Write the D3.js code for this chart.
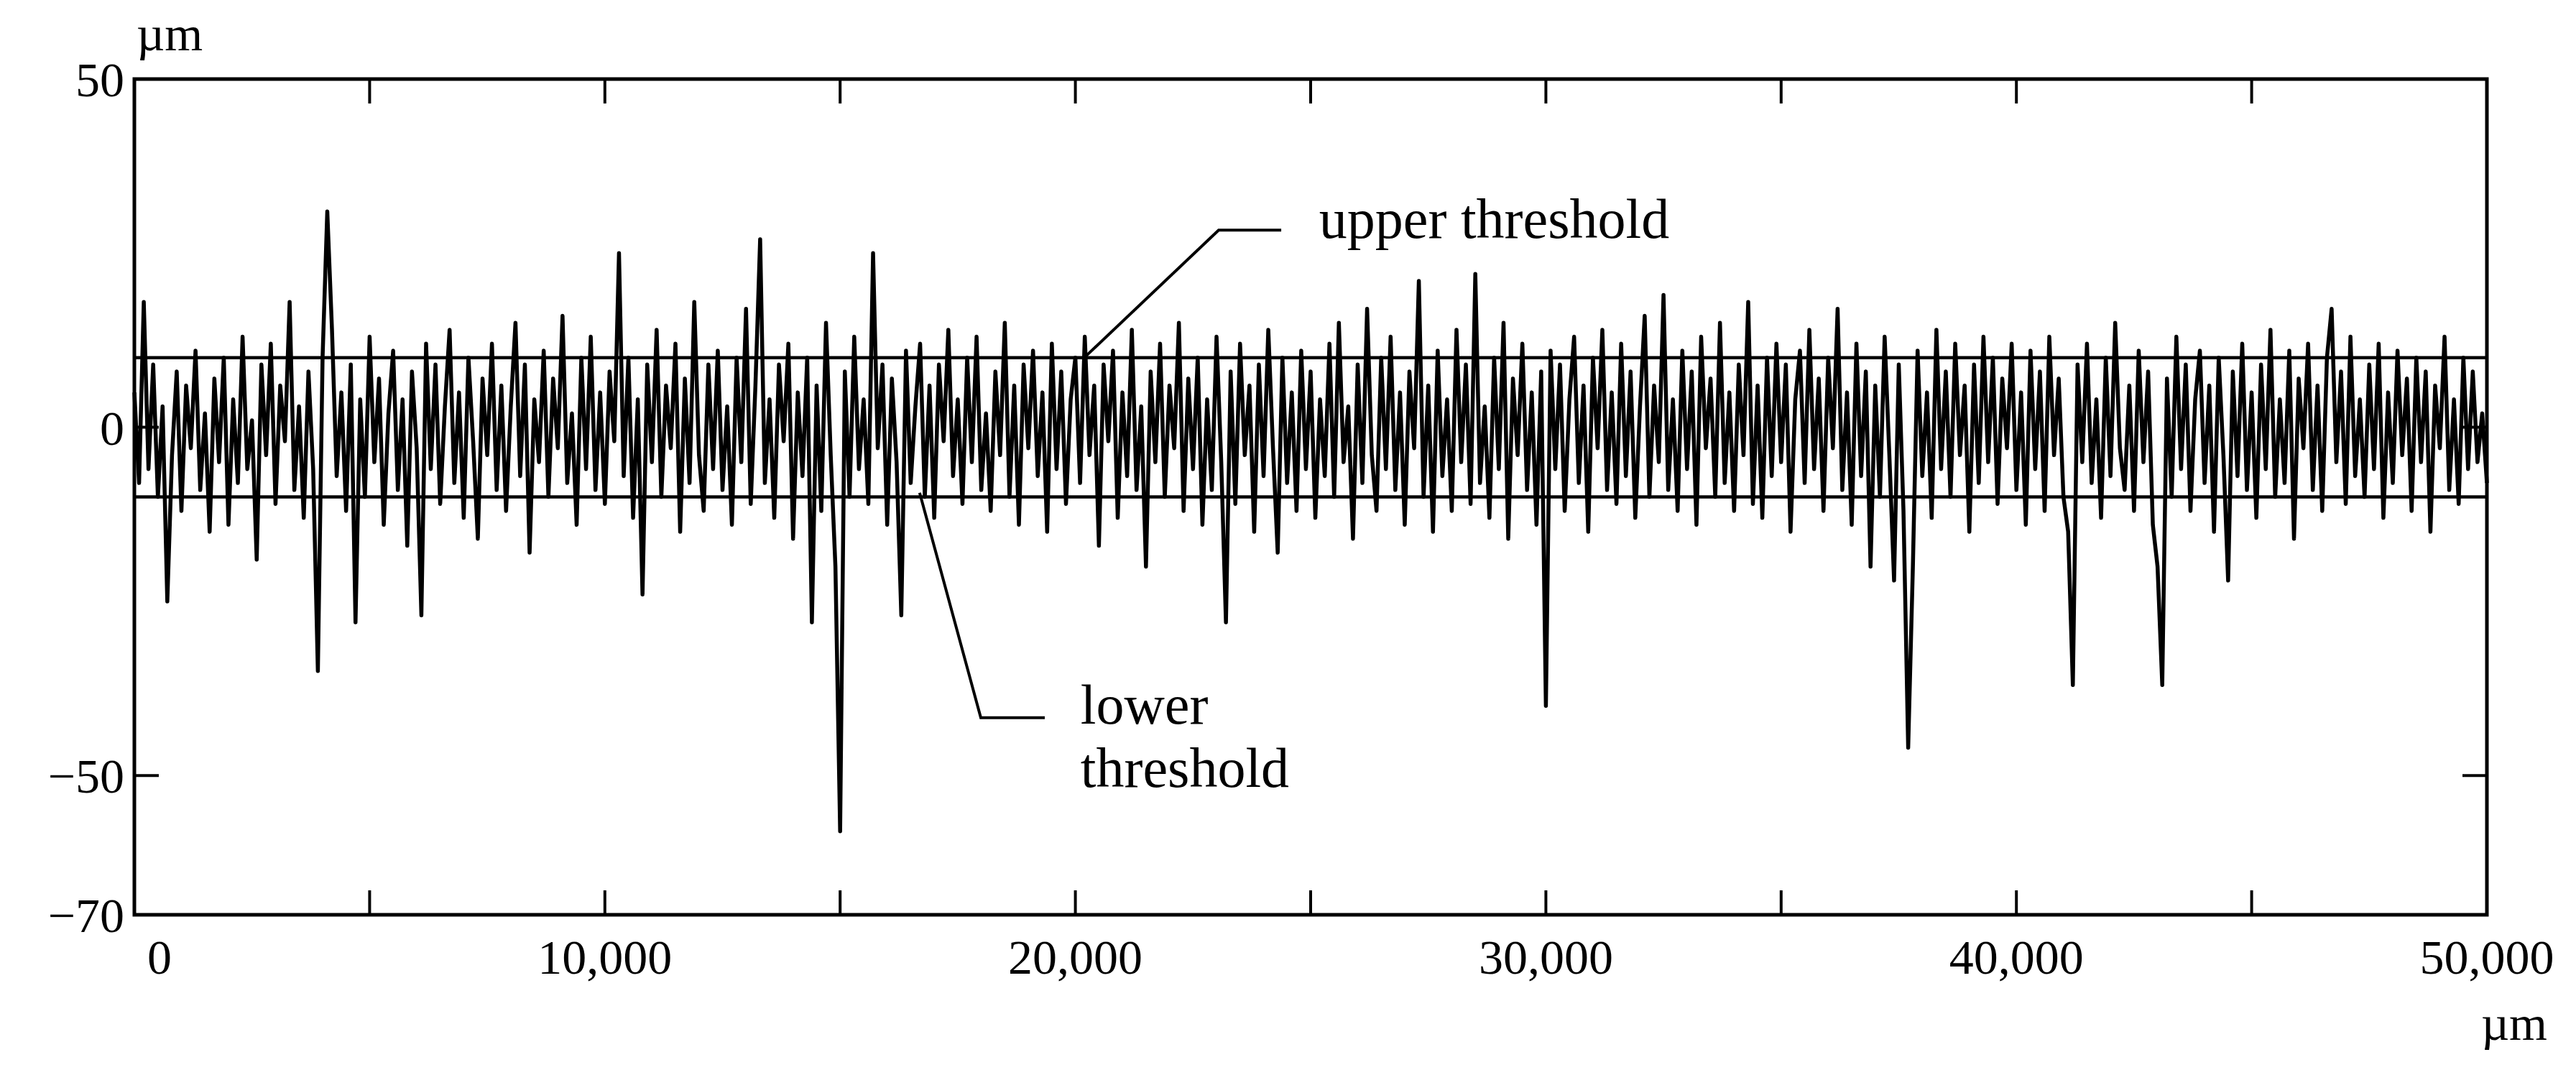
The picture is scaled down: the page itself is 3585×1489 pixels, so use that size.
<!DOCTYPE html>
<html>
<head>
<meta charset="utf-8">
<script src="https://cdn.jsdelivr.net/npm/d3@7"></script>
<style>
  body { margin: 0; background: #fff; }
  text { font-family: "Liberation Serif", "Times New Roman", serif; fill: #000; }
</style>
</head>
<body>
<svg id="chart" width="3585" height="1489"></svg>
<script>
// Profile samples, one every 100 µm
var step = 100;
var profile = [
  5,-8,18,-6,9,-10,3,-25,-4,8,-12,6,-3,11,-9,2,-15,7,-5,10,-14,4,-8,13,-6,
  1,-19,9,-4,12,-11,6,-2,18,-9,3,-13,8,-6,-35,10,31,14,-7,5,-12,9,-28,4,-10,
  13,-5,7,-14,2,11,-9,4,-17,8,-3,-27,12,-6,9,-11,3,14,-8,5,-13,10,-2,-16,7,
  -4,12,-9,6,-12,3,15,-7,9,-18,4,-5,11,-10,7,-3,16,-8,2,-14,10,-6,13,-9,5,
  -11,8,-2,25,-7,10,-13,4,-24,9,-5,14,-10,6,-3,12,-15,7,-8,18,-4,-12,9,-6,11,
  -9,3,-14,10,-5,17,-11,6,27,-8,4,-13,9,-2,12,-16,5,-7,10,-28,6,-12,15,-4,-20,
  -58,8,-10,13,-6,4,-11,25,-3,9,-14,7,-5,-27,11,-8,3,12,-10,6,-13,9,-2,14,-7,
  4,-11,10,-5,13,-9,2,-12,8,-4,15,-10,6,-14,9,-3,11,-7,5,-15,12,-6,8,-11,4,
  10,-8,13,-4,6,-17,9,-2,11,-13,5,-7,14,-9,3,-20,8,-5,12,-10,6,-3,15,-12,7,
  -6,10,-14,4,-9,13,-5,-28,8,-11,12,-4,6,-15,9,-7,14,-3,-18,10,-8,5,-12,11,-6,
  8,-13,4,-7,12,-10,15,-5,3,-16,9,-8,17,-4,-12,10,-6,13,-9,5,-14,8,-3,21,-10,
  6,-15,11,-7,4,-12,14,-5,9,-11,22,-8,3,-13,10,-6,15,-16,7,-4,12,-9,5,-14,8,
  -40,11,-6,9,-12,4,13,-8,6,-15,10,-3,14,-9,5,-11,12,-7,8,-13,3,16,-10,6,-5,
  19,-9,4,-12,11,-6,8,-14,13,-3,7,-10,15,-8,5,-12,9,-4,18,-11,6,-13,10,-7,12,
  -5,9,-15,4,11,-8,14,-6,7,-12,10,-3,17,-9,5,-14,12,-7,8,-20,6,-10,13,-4,-22,
  9,-12,-46,-20,11,-7,5,-13,14,-6,8,-10,12,-4,6,-15,9,-8,13,-5,10,-11,7,-3,12,
  -9,5,-14,11,-6,8,-12,13,-4,7,-10,-15,-37,9,-5,12,-8,4,-13,10,-7,15,-3,-9,6,
  -12,11,-5,8,-14,-20,-37,7,-10,13,-6,9,-12,4,11,-8,6,-15,10,-4,-22,8,-7,12,-9,
  5,-13,9,-6,14,-10,4,-8,11,-16,7,-3,12,-9,6,-12,10,17,-5,8,-11,13,-7,4,-10,
  9,-6,12,-13,5,-8,11,-4,7,-12,10,-5,8,-15,6,-3,13,-9,4,-11,10,-6,8,-5,2,-8
];
var thresholds = [10, -10];
var xTicks = [0, 10000, 20000, 30000, 40000, 50000];
var xMinor = [5000, 15000, 25000, 35000, 45000];
var yTicks = [50, 0, -50, -70];

var svg = d3.select("#chart");
var m = {left: 187, right: 3461, top: 110, bottom: 1273};

var x = d3.scaleLinear().domain([0, 50000]).range([m.left, m.right]);
var y = d3.scaleLinear().domain([-70, 50]).range([m.bottom, m.top]);

// data line
var line = d3.line()
  .x(function(d, i) { return x(i * step); })
  .y(function(d) { return y(d); });

svg.append("path")
  .datum(profile)
  .attr("d", line)
  .attr("fill", "none")
  .attr("stroke", "#000")
  .attr("stroke-width", 5.5)
  .attr("stroke-linejoin", "round");

// threshold lines
svg.selectAll(".thr")
  .data(thresholds)
  .enter()
  .append("line")
  .attr("x1", m.left).attr("x2", m.right)
  .attr("y1", function(d) { return y(d); })
  .attr("y2", function(d) { return y(d); })
  .attr("stroke", "#000")
  .attr("stroke-width", 4.5);

// frame
svg.append("rect")
  .attr("x", m.left).attr("y", m.top)
  .attr("width", m.right - m.left).attr("height", m.bottom - m.top)
  .attr("fill", "none").attr("stroke", "#000").attr("stroke-width", 5);

// inside ticks, top and bottom
var tickLen = 34;
var allX = xTicks.concat(xMinor).filter(function(v) { return v > 0 && v < 50000; });
allX.forEach(function(v) {
  svg.append("line").attr("x1", x(v)).attr("x2", x(v))
    .attr("y1", m.bottom).attr("y2", m.bottom - tickLen)
    .attr("stroke", "#000").attr("stroke-width", 4);
  svg.append("line").attr("x1", x(v)).attr("x2", x(v))
    .attr("y1", m.top).attr("y2", m.top + tickLen)
    .attr("stroke", "#000").attr("stroke-width", 4);
});
[-50, 0].forEach(function(v) {
  svg.append("line").attr("x1", m.left).attr("x2", m.left + tickLen)
    .attr("y1", y(v)).attr("y2", y(v))
    .attr("stroke", "#000").attr("stroke-width", 4);
  svg.append("line").attr("x1", m.right).attr("x2", m.right - tickLen)
    .attr("y1", y(v)).attr("y2", y(v))
    .attr("stroke", "#000").attr("stroke-width", 4);
});

// tick labels
var fs = 68;
svg.selectAll(".xl")
  .data(xTicks)
  .enter()
  .append("text")
  .attr("x", function(d) { return d == 0 ? x(d) + 35 : x(d); })
  .attr("y", 1355)
  .attr("text-anchor", "middle")
  .attr("font-size", fs)
  .text(function(d) { return d3.format(",")(d); });

svg.selectAll(".yl")
  .data(yTicks)
  .enter()
  .append("text")
  .attr("x", 173)
  .attr("y", function(d) { return y(d) + 24; })
  .attr("text-anchor", "end")
  .attr("font-size", fs)
  .text(function(d) { return d < 0 ? "\u2212" + Math.abs(d) : d; });

// units
svg.append("text").attr("x", 190).attr("y", 70).attr("font-size", fs).text("µm");
svg.append("text").attr("x", 3545).attr("y", 1447).attr("text-anchor", "end").attr("font-size", fs).text("µm");

// annotations
var afs = 78;
var upperLeader = [[20190, 10], [23045, 28.3], [24375, 28.3]];
var lowerLeader = [[16690, -9.4], [17990, -41.7], [19350, -41.7]];
var lead = d3.line().x(function(d) { return x(d[0]); }).y(function(d) { return y(d[1]); });
[upperLeader, lowerLeader].forEach(function(p) {
  svg.append("path").attr("d", lead(p)).attr("fill", "none")
    .attr("stroke", "#000").attr("stroke-width", 4);
});
svg.append("text").attr("x", x(25180)).attr("y", y(27.2)).attr("font-size", afs).text("upper threshold");
svg.append("text").attr("x", x(20110)).attr("y", y(-42.6)).attr("font-size", afs).text("lower");
svg.append("text").attr("x", x(20110)).attr("y", y(-51.6)).attr("font-size", afs).text("threshold");
</script>
</body>
</html>
